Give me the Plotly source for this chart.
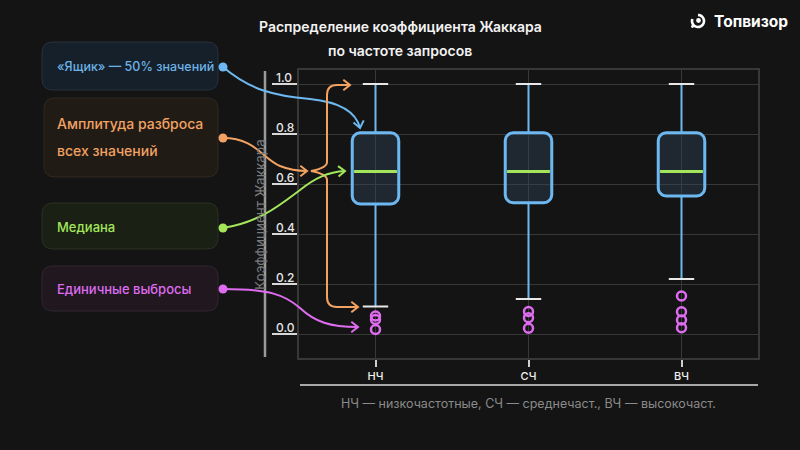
import math
import plotly.graph_objects as go

# ---------------- data ----------------
categories = ["НЧ", "СЧ", "ВЧ"]
q1 = [0.52, 0.525, 0.552]
median = [0.65, 0.65, 0.65]
q3 = [0.805, 0.805, 0.805]
lower_fence = [0.11, 0.14, 0.22]
upper_fence = [1.0, 1.0, 1.0]
outliers = [
    [0.072, 0.058, 0.018],
    [0.090, 0.065, 0.023],
    [0.152, 0.089, 0.056, 0.025],
]
y_ticks = [0.0, 0.2, 0.4, 0.6, 0.8, 1.0]
y_tick_labels = ["0.0", "0.2", "0.4", "0.6", "0.8", "1.0"]

title_lines = ["Распределение коэффициента Жаккара", "по частоте запросов"]
y_title = "Коэффициент Жаккара"
footnote = "НЧ — низкочастотные, СЧ — среднечаст., ВЧ — высокочаст."
legend_labels = ["«Ящик» — 50% значений", "Амплитуда разброса<br>всех значений", "Медиана", "Единичные выбросы"]

# ---------------- style ----------------
BG = "#141414"
GRID = "#383838"
BLUE = "#6db8f0"
GREEN = "#a3e65c"
MAGENTA = "#df6cf0"
ORANGE = "#f2a262"
FONT = "Inter"

W, H = 800, 450
L, R, T, B = 299, 758, 70, 358
PW, PH = R - L, B - T
Y_RANGE = [-0.096, 1.056]
X_RANGE = [-0.5, 2.5]


def px(x):
    return (x - L) / PW


def py(y):
    return (B - y) / PH


def P(x, y):
    return f"{px(x):.5f},{py(y):.5f}"


xs = list(range(len(categories)))
half_w = 0.152          # box half width (category units)
cap_hw = 0.083
rx = 8 / 153
ry = 8 / 250

fig = go.Figure()

# whiskers
for i, x in enumerate(xs):
    fig.add_trace(go.Scatter(x=[x, x], y=[lower_fence[i], q1[i]], mode="lines",
                             line=dict(color=BLUE, width=2), hoverinfo="skip", showlegend=False))
    fig.add_trace(go.Scatter(x=[x, x], y=[q3[i], upper_fence[i]], mode="lines",
                             line=dict(color=BLUE, width=2), hoverinfo="skip", showlegend=False))


def rounded_box(xc, y0, y1):
    x0, x1 = xc - half_w, xc + half_w
    pts_x, pts_y = [], []
    corners = [
        (x1 - rx, y1 - ry, 0, 90),
        (x0 + rx, y1 - ry, 90, 180),
        (x0 + rx, y0 + ry, 180, 270),
        (x1 - rx, y0 + ry, 270, 360),
    ]
    for cx, cy, a0, a1 in corners:
        for k in range(9):
            a = math.radians(a0 + (a1 - a0) * k / 8)
            pts_x.append(cx + rx * math.cos(a))
            pts_y.append(cy + ry * math.sin(a))
    pts_x.append(pts_x[0])
    pts_y.append(pts_y[0])
    return pts_x, pts_y


# boxes
for i, x in enumerate(xs):
    bx, by = rounded_box(x, q1[i], q3[i])
    fig.add_trace(go.Scatter(x=bx, y=by, mode="lines", fill="toself",
                             fillcolor="rgba(50,72,98,0.38)",
                             line=dict(color=BLUE, width=3), hoverinfo="skip", showlegend=False))
    fig.add_trace(go.Scatter(x=[x - half_w + 0.012, x + half_w - 0.012], y=[median[i], median[i]],
                             mode="lines", line=dict(color=GREEN, width=3),
                             hoverinfo="skip", showlegend=False))
    for v in (lower_fence[i], upper_fence[i]):
        fig.add_trace(go.Scatter(x=[x - cap_hw, x + cap_hw], y=[v, v], mode="lines",
                                 line=dict(color="#e8e8e8", width=2),
                                 hoverinfo="skip", showlegend=False))
    fig.add_trace(go.Scatter(x=[x] * len(outliers[i]), y=outliers[i], mode="markers",
                             marker=dict(symbol="circle-open", size=9, color=MAGENTA,
                                         line=dict(width=2.5, color=MAGENTA)),
                             hoverinfo="skip", showlegend=False))

shapes = []
annotations = []

# vertical line left of axis
shapes.append(dict(type="line", xref="paper", yref="paper", x0=px(265), x1=px(265),
                   y0=py(71), y1=py(357), line=dict(color="#9a9a9a", width=2.5)))
# bottom separator line
shapes.append(dict(type="line", xref="paper", yref="paper", x0=px(300), x1=px(758),
                   y0=py(385), y1=py(385), line=dict(color="#a8a8a8", width=2)))

# y tick labels
for v, t in zip(y_ticks, y_tick_labels):
    annotations.append(dict(text=t, xref="paper", yref="y", x=px(274), y=v, xanchor="left",
                            yanchor="bottom", yshift=-3, showarrow=False,
                            font=dict(family=FONT, size=12, color="#e6e6e6", weight=500)))

# y title
annotations.append(dict(text=y_title, xref="paper", yref="paper", x=px(250), y=py(215),
                        textangle=-90, showarrow=False,
                        font=dict(family=FONT, size=13.5, color="#7a7a7a")))

# title
for k, line in enumerate(title_lines):
    annotations.append(dict(text=line, xref="paper", yref="paper", x=px(400), y=py(26 + 24 * k),
                            showarrow=False, xanchor="center", yanchor="middle",
                            font=dict(family=FONT, size=14, color="#f2f2f2", weight=600)))

# footnote
annotations.append(dict(text=footnote, xref="paper", yref="paper", x=px(528), y=py(403),
                        showarrow=False, xanchor="center", yanchor="middle",
                        font=dict(family=FONT, size=12.5, color="#8a8a8a")))

# logo
annotations.append(dict(text="Топвизор", xref="paper", yref="paper", x=px(712), y=py(22),
                        showarrow=False, xanchor="left", yanchor="middle",
                        font=dict(family=FONT, size=15.5, color="#ffffff", weight=700)))
cx, cy, r = 698, 21, 6
arc = []
for k in range(0, 25):
    a = math.radians(-200 + 290 * k / 24)
    arc.append((cx + r * math.cos(a), cy - r * math.sin(a)))
shapes.append(dict(type="path", xref="paper", yref="paper",
                   path="M " + " L ".join(P(x, y) for x, y in arc),
                   line=dict(color="white", width=2.6)))
for (dx, dy, rr) in [(cx + 0.5, cy - 0.5, 2.4), (cx - 5.5, cy + 5.5, 1.4)]:
    shapes.append(dict(type="circle", xref="paper", yref="paper", x0=px(dx - rr), x1=px(dx + rr),
                       y0=py(dy + rr), y1=py(dy - rr), fillcolor="white", line=dict(width=0)))

# legend boxes
boxes = [
    (42, 42, 218, 90, "#16202a", "#27323d", "#6cb2e6", [66], 12.5),
    (44, 98, 218, 177, "#211b16", "#302922", ORANGE, [123, 150], 14),
    (42, 203, 218, 249, "#1a2014", "#2a3122", GREEN, [227], 13),
    (42, 266, 218, 311, "#20171f", "#30262f", MAGENTA, [289], 13),
]


def rrect(x0, y0, x1, y1, rr):
    return ("M " + P(x0 + rr, y0) + " L " + P(x1 - rr, y0) + " Q " + P(x1, y0) + " " + P(x1, y0 + rr)
            + " L " + P(x1, y1 - rr) + " Q " + P(x1, y1) + " " + P(x1 - rr, y1)
            + " L " + P(x0 + rr, y1) + " Q " + P(x0, y1) + " " + P(x0, y1 - rr)
            + " L " + P(x0, y0 + rr) + " Q " + P(x0, y0) + " " + P(x0 + rr, y0) + " Z")


for (x0, y0, x1, y1, bg, bd, col, ys, fs), lab in zip(boxes, legend_labels):
    shapes.append(dict(type="path", xref="paper", yref="paper", path=rrect(x0, y0, x1, y1, 11),
                       fillcolor=bg, line=dict(color=bd, width=1), layer="below"))
    for yy, part in zip(ys, lab.split("<br>")):
        annotations.append(dict(text=part, xref="paper", yref="paper", x=px(55), y=py(yy),
                                xanchor="left", yanchor="middle", showarrow=False,
                                font=dict(family=FONT, size=fs, color=col, weight=500)))


# connector curves
def arrowhead(tip, frm, color, length=8.5, ang=38):
    dx, dy = tip[0] - frm[0], tip[1] - frm[1]
    n = math.hypot(dx, dy)
    dx, dy = dx / n, dy / n
    wings = []
    for s in (1, -1):
        a = math.radians(ang * s)
        wx = dx * math.cos(a) - dy * math.sin(a)
        wy = dx * math.sin(a) + dy * math.cos(a)
        wings.append((tip[0] - length * wx, tip[1] - length * wy))
    return dict(type="path", xref="paper", yref="paper",
                path="M " + P(*wings[0]) + " L " + P(*tip) + " L " + P(*wings[1]),
                line=dict(color=color, width=2))


def curve(d, color):
    return dict(type="path", xref="paper", yref="paper", path=d, line=dict(color=color, width=2))


# blue
shapes.append(curve("M " + P(223, 67) + " C " + P(250, 90) + " " + P(275, 96) + " " + P(310, 99)
                    + " C " + P(340, 102) + " " + P(356, 112) + " " + P(360, 128), BLUE))
shapes.append(arrowhead((360, 128), (357, 114), BLUE))
# orange main
shapes.append(curve("M " + P(223, 138) + " C " + P(255, 138) + " " + P(262, 158) + " " + P(280, 166)
                    + " C " + P(290, 170) + " " + P(298, 171) + " " + P(307, 171), ORANGE))
shapes.append(arrowhead((307, 171), (297, 171), ORANGE))
# orange brace
shapes.append(curve("M " + P(350, 85) + " L " + P(337, 85) + " Q " + P(327, 85) + " " + P(327, 95)
                    + " L " + P(327, 162) + " Q " + P(327, 168) + " " + P(311, 171)
                    + " Q " + P(327, 174) + " " + P(327, 180)
                    + " L " + P(327, 297) + " Q " + P(327, 307) + " " + P(337, 307)
                    + " L " + P(358, 307), ORANGE))
shapes.append(arrowhead((350, 85), (340, 85), ORANGE))
shapes.append(arrowhead((358, 307), (348, 307), ORANGE))
# green
shapes.append(curve("M " + P(223, 228) + " C " + P(260, 222) + " " + P(280, 205) + " " + P(300, 190)
                    + " C " + P(315, 178) + " " + P(328, 172) + " " + P(345, 171), GREEN))
shapes.append(arrowhead((345, 171), (335, 171.5), GREEN))
# magenta
shapes.append(curve("M " + P(223, 289) + " C " + P(270, 289) + " " + P(285, 295) + " " + P(300, 308)
                    + " C " + P(315, 322) + " " + P(330, 327) + " " + P(358, 327), MAGENTA))
shapes.append(arrowhead((358, 327), (348, 327), MAGENTA))

# dots
for (dx, dy, col) in [(223, 67, BLUE), (223, 138, ORANGE), (223, 228, GREEN), (223, 289, MAGENTA)]:
    rr = 4.5
    shapes.append(dict(type="circle", xref="paper", yref="paper", x0=px(dx - rr), x1=px(dx + rr),
                       y0=py(dy + rr), y1=py(dy - rr), fillcolor=col, line=dict(width=0)))

fig.update_layout(
    width=W, height=H,
    margin=dict(l=L, r=W - R, t=T, b=H - B, pad=0),
    paper_bgcolor=BG, plot_bgcolor=BG,
    showlegend=False,
    shapes=shapes,
    annotations=annotations,
    font=dict(family=FONT, color="#e6e6e6"),
    xaxis=dict(range=X_RANGE, tickvals=xs, ticktext=categories, showgrid=True, gridcolor=GRID,
               gridwidth=1, zeroline=False, showline=True, linecolor=GRID, linewidth=1.5, mirror=True,
               ticks="outside", ticklen=7, tickcolor="#cfcfcf", tickwidth=1.5,
               tickfont=dict(family=FONT, size=11, color="#f0f0f0", weight=500), fixedrange=True),
    yaxis=dict(range=Y_RANGE, tickvals=y_ticks, showticklabels=False, showgrid=True, gridcolor=GRID,
               gridwidth=1, zeroline=False, showline=True, linecolor=GRID, linewidth=1.5, mirror=True,
               ticks="outside", ticklen=25, tickcolor="#d8d8d8", tickwidth=1.5, fixedrange=True),
)

fig.write_html("out.html", config={"displayModeBar": False},
               post_script="document.body.style.margin='0';document.body.style.padding='0';"
                           "document.body.style.background='#141414';")
